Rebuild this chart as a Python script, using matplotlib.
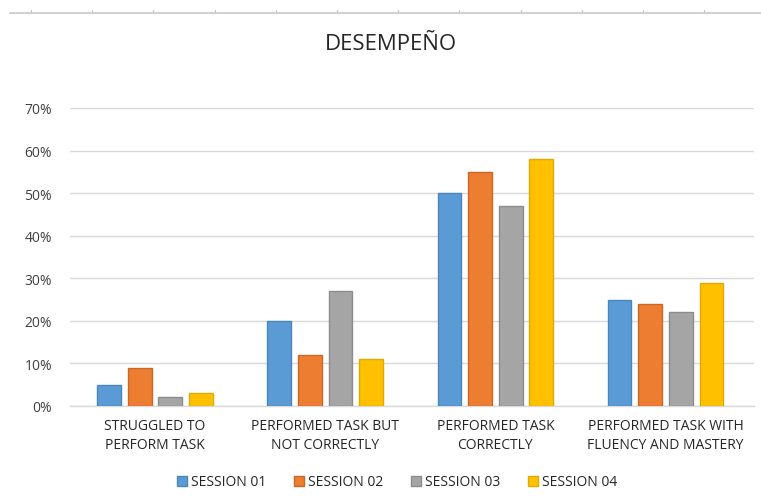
import numpy as np
import matplotlib.pyplot as plt
from matplotlib.lines import Line2D

# performance shares per session
categories = ["STRUGGLED TO\nPERFORM TASK",
              "PERFORMED TASK BUT\nNOT CORRECTLY",
              "PERFORMED TASK\nCORRECTLY",
              "PERFORMED TASK WITH\nFLUENCY AND MASTERY"]
session_01 = [0.05, 0.20, 0.50, 0.25]
session_02 = [0.09, 0.12, 0.55, 0.24]
session_03 = [0.02, 0.27, 0.47, 0.22]
session_04 = [0.03, 0.11, 0.58, 0.29]
series_names = ["SESSION 01", "SESSION 02", "SESSION 03", "SESSION 04"]
y_ticks = [0.0, 0.1, 0.2, 0.3, 0.4, 0.5, 0.6, 0.7]

colors = ["#5B9BD5", "#ED7D31", "#A5A5A5", "#FFC000"]
edges = ["#4A86BE", "#C9682A", "#8C8C8C", "#E0AA00"]

plt.rcParams['font.family'] = ['Open Sans', 'DejaVu Sans']

fig = plt.figure(figsize=(7.61, 5.02), dpi=100)
ax = fig.add_axes([70/761, 1-407/502, 684/761, (407-109)/502])

x = np.arange(len(categories))
width = 0.14
step = 0.18
for i, (vals, name) in enumerate(zip([session_01, session_02, session_03, session_04], series_names)):
    ax.bar(x + (i - 1.5) * step, vals, width, color=colors[i], edgecolor=edges[i],
           linewidth=1.0, label=name, zorder=3)

ax.set_xlim(-0.5, 3.52)
ax.set_ylim(0, 0.7)
ax.set_yticks(y_ticks)
ax.set_yticklabels([f"{int(round(t*100))}%" for t in y_ticks])
ax.set_xticks(x)
ax.set_xticklabels(categories, linespacing=1.35)
ax.tick_params(axis='y', length=0, pad=13, labelsize=10, labelcolor="#404040")
ax.tick_params(axis='x', length=0, pad=9, labelsize=10, labelcolor="#262626")
ax.grid(axis='y', color="#D9D9D9", linewidth=1.0, zorder=0)
for s in ["top", "right", "left"]:
    ax.spines[s].set_visible(False)
ax.spines["bottom"].set_color("#D9D9D9")
ax.spines["bottom"].set_linewidth(1.0)

fig.text(391/761, 1-44/502, "DESEMPEÑO", ha='center', va='center', fontsize=16, color="#262626")

# sheet border line along the top
fig.add_artist(Line2D([10/761, 1], [1-14/502, 1-14/502], color="#C8C8C8", linewidth=1.2))
for tx in np.arange(31, 761, 61.2):
    fig.add_artist(Line2D([tx/761, tx/761], [1-14/502, 1-11/502], color="#C8C8C8", linewidth=0.8))

ax.legend(loc='center', bbox_to_anchor=(397/761, 1-483/502), bbox_transform=fig.transFigure,
          ncol=4, frameon=False, fontsize=10, handlelength=0.7, handleheight=0.7,
          handletextpad=0.3, columnspacing=2.0, labelcolor="#262626")

fig.savefig("out.png", dpi=100, facecolor="white")
